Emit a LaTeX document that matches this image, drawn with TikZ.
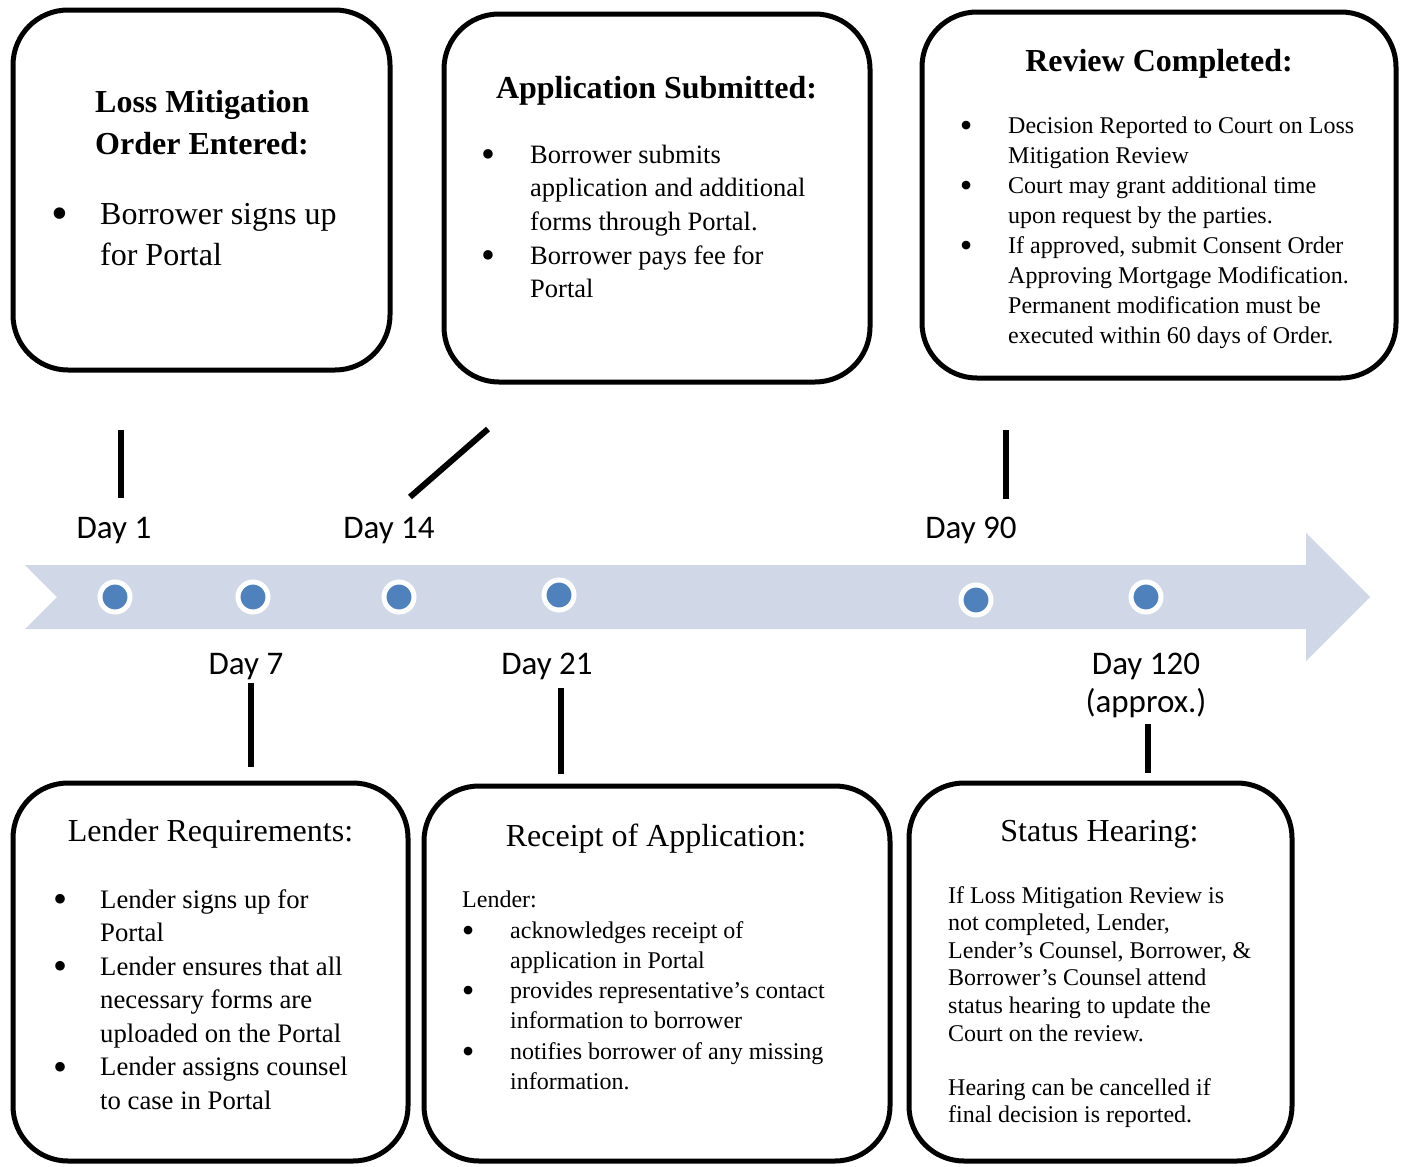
\documentclass[tikz,border=0pt]{standalone}
\usepackage{fontspec}
\usepackage{graphicx}
\setmainfont{Liberation Serif}
\newfontfamily\dayfont{Carlito}
\definecolor{bandcol}{HTML}{D0D8E8}
\definecolor{dotblue}{HTML}{4F81BD}
\newcommand\bigbul{\hspace{-0.09em}\raisebox{-0.17em}{\scalebox{1.5}{\textbullet}}}
\newcommand\bitem[2]{\par\hangindent=#1\hangafter=1\noindent\makebox[#1][l]{\bigbul}#2}
\newcommand\txtbox[3]{\parbox[t]{520pt}{\fontsize{#1}{#2}\selectfont #3}}
\tikzset{
  box/.style={draw, line width=5pt, rounded corners=55pt, inner sep=0pt},
  tickline/.style={line width=6pt},
  daylab/.style={font=\dayfont\fontsize{33}{38}\selectfont, anchor=base, inner sep=0pt},
  dotnode/.style={circle, fill=dotblue, draw=white, line width=5pt, minimum size=30pt, inner sep=0pt},
  txt/.style={anchor=base west, inner sep=0pt},
  ttl/.style={anchor=base, inner sep=0pt, font=\fontsize{32}{40}\selectfont},
}
\begin{document}
\begin{tikzpicture}[x=1pt,y=-1pt]
\useasboundingbox (0,0) rectangle (1406,1167);
% timeline band
\fill[bandcol] (25,565) -- (1306,565) -- (1306,533) -- (1370,597) -- (1306,661) -- (1306,629) -- (25,629) -- (57,597) -- cycle;
% dots
\node[dotnode] (d1) at (115,597) {};
\node[dotnode] (d7) at (253,597) {};
\node[dotnode] (d14) at (399,597) {};
\node[dotnode] (d21) at (559,595) {};
\node[dotnode] (d90) at (976,600) {};
\node[dotnode] (d120) at (1146,597) {};
% day labels
\node[daylab] (l1) at (114,538) {Day 1};
\node[daylab] (l14) at (389,538) {Day 14};
\node[daylab] (l90) at (971,538) {Day 90};
\node[daylab] (l7) at (246,674) {Day 7};
\node[daylab] (l21) at (547,674) {Day 21};
\node[daylab] (l120) at (1146,674) {Day 120};
\node[daylab] (lapprox) at (1146,712) {(approx.)};
% ticks
\coordinate (t1a) at (121,430); \coordinate (t1b) at (121,498);
\coordinate (t14a) at (488,429); \coordinate (t14b) at (410,497);
\coordinate (t90a) at (1006,430); \coordinate (t90b) at (1006,499);
\coordinate (t7a) at (251,683); \coordinate (t7b) at (251,767);
\coordinate (t21a) at (561,688); \coordinate (t21b) at (561,774);
\coordinate (t120a) at (1148,724); \coordinate (t120b) at (1148,773);
\draw[tickline] (t1a) -- (t1b);
\draw[tickline] (t14a) -- (t14b);
\draw[tickline] (t90a) -- (t90b);
\draw[tickline] (t7a) -- (t7b);
\draw[tickline] (t21a) -- (t21b);
\draw[tickline] (t120a) -- (t120b);
% boxes
\node[box, minimum width=377pt, minimum height=360pt] (b1) at (201.5,190) {};
\node[box, minimum width=426pt, minimum height=368pt] (b2) at (657,198) {};
\node[box, minimum width=474pt, minimum height=366pt] (b3) at (1159,195) {};
\node[box, minimum width=395pt, minimum height=378pt] (b4) at (210.5,972) {};
\node[box, minimum width=466pt, minimum height=375pt] (b5) at (657,973.5) {};
\node[box, minimum width=383pt, minimum height=378pt] (b6) at (1100.5,972) {};
% box 1
\node[txt] (b1t) at (95,112) {\txtbox{32}{42}{\bfseries Loss Mitigation\newline Order Entered:}};
\node[txt] (b1b) at (54.4,224) {\txtbox{32}{41}{\bitem{45.6pt}{Borrower signs up\newline for Portal}}};
% box 2
\node[ttl, font=\bfseries\fontsize{32}{40}\selectfont] (b2t) at (656.5,98.5) {Application Submitted:};
\node[txt] (b2b) at (483.4,163) {\txtbox{26.5}{33.7}{\bitem{46.6pt}{Borrower submits\newline application and additional\newline forms through Portal.}\bitem{46.6pt}{Borrower pays fee for\newline Portal}}};
% box 3
\node[ttl, font=\bfseries\fontsize{32}{40}\selectfont] (b3t) at (1159,71) {Review Completed:};
\node[txt] (b3b) at (961.8,133) {\txtbox{24}{30}{\bitem{46.2pt}{Decision Reported to Court on Loss\newline Mitigation Review}\bitem{46.2pt}{Court may grant additional time\newline upon request by the parties.}\bitem{46.2pt}{If approved, submit Consent Order\newline Approving Mortgage Modification.\newline Permanent modification must be\newline executed within 60 days of Order.}}};
% box 4
\node[ttl] (b4t) at (210.5,841.5) {Lender Requirements:};
\node[txt] (b4b) at (55.3,908) {\txtbox{26.7}{33.5}{\bitem{44.7pt}{Lender signs up for\newline Portal}\bitem{44.7pt}{Lender ensures that all\newline necessary forms are\newline uploaded on the Portal}\bitem{44.7pt}{Lender assigns counsel\newline to case in Portal}}};
% box 5
\node[ttl] (b5t) at (656,846.5) {Receipt of Application:};
\node[txt, font=\fontsize{24}{30}\selectfont] (b5l) at (462,907) {Lender:};
\node[txt] (b5b) at (463.8,938) {\txtbox{24}{30.3}{\bitem{46.2pt}{acknowledges receipt of\newline application in Portal}\bitem{46.2pt}{provides representative’s contact\newline information to borrower}\bitem{46.2pt}{notifies borrower of any missing\newline information.}}};
% box 6
\node[ttl] (b6t) at (1099.5,841.5) {Status Hearing:};
\node[txt] (b6b) at (948,903) {\txtbox{24}{27.6}{\noindent If Loss Mitigation Review is\newline not completed, Lender,\newline Lender’s Counsel, Borrower, \&\newline Borrower’s Counsel attend\newline status hearing to update the\newline Court on the review.\par\vskip 26.4pt\noindent Hearing can be cancelled if\newline final decision is reported.}};
\end{tikzpicture}
\end{document}
